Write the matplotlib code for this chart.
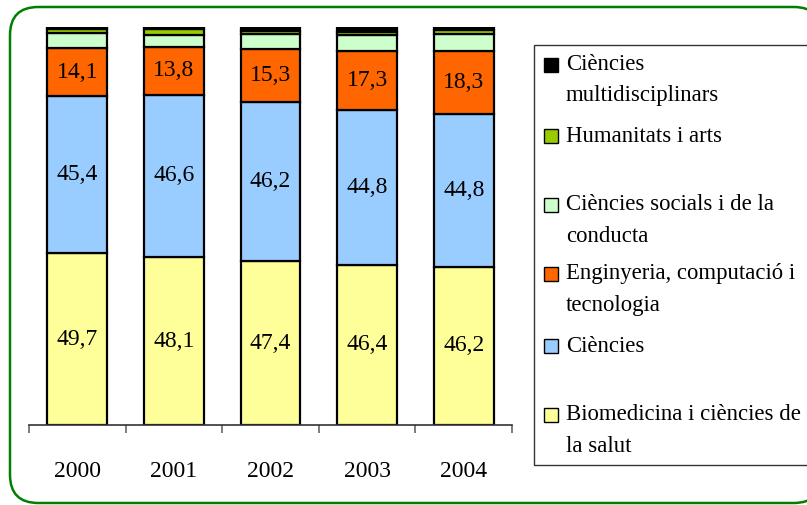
import matplotlib
matplotlib.use("Agg")
import matplotlib.pyplot as plt
from matplotlib.patches import FancyBboxPatch, Rectangle
import numpy as np

plt.rcParams['font.family'] = ['Liberation Serif', 'DejaVu Serif']

years = ['2000', '2001', '2002', '2003', '2004']

# values as printed (% of papers, categories overlap so totals > 100)
biomedicina = [49.7, 48.1, 47.4, 46.4, 46.2]
ciencies = [45.4, 46.6, 46.2, 44.8, 44.8]
enginyeria = [14.1, 13.8, 15.3, 17.3, 18.3]
# small segments
socials = [4.3, 3.3, 4.3, 4.6, 5.0]
humanitats = [1.0, 1.7, 0.9, 0.9, 1.0]
multidisc = [0.8, 0.7, 1.2, 1.5, 1.1]

series = [biomedicina, ciencies, enginyeria, socials, humanitats, multidisc]
names = ['Biomedicina i ciències de\nla salut', 'Ciències',
         'Enginyeria, computació i\ntecnologia', 'Ciències socials i de la\nconducta',
         'Humanitats i arts', 'Ciències\nmultidisciplinars']
colors = ['#FFFF99', '#99CCFF', '#FF6600', '#CCFFCC', '#99CC00', '#000000']
labelled = 3  # first three series carry value labels

W, H = 807, 505
fig = plt.figure(figsize=(W / 100, H / 100), dpi=100)

def fx(px):
    return px / W

def fy(py):
    return 1 - py / H

# rounded green frame (right edge runs past the image)
frame = FancyBboxPatch((fx(10), fy(503)), fx(822) - fx(10), fy(7) - fy(503),
                       boxstyle="round,pad=0,rounding_size=0.035",
                       transform=fig.transFigure, facecolor='white',
                       edgecolor='#008000', linewidth=1.8, zorder=-5,
                       mutation_aspect=W / H)
fig.patches.append(frame)

ax = fig.add_axes([fx(29), fy(425), fx(512) - fx(29), fy(26.7) - fy(425)])
ax.set_facecolor('none')
ax.set_zorder(2)

arr = np.array(series)
totals = arr.sum(axis=0)
pct = arr / totals * 100

x = np.arange(len(years))
bottom = np.zeros(len(years))
for i, (vals, col) in enumerate(zip(pct, colors)):
    bars = ax.bar(x, vals, 0.62, bottom=bottom, color=col,
                  edgecolor='black', linewidth=1.6)
    if i < labelled:
        ax.bar_label(bars, labels=[f"{v:.1f}".replace('.', ',') for v in series[i]],
                     label_type='center', fontsize=17)
    bottom += vals

ax.set_xlim(-0.5, len(years) - 0.5)
ax.set_ylim(0, 100)
for s in ['left', 'right', 'top']:
    ax.spines[s].set_visible(False)
ax.spines['bottom'].set_color('#333333')
ax.spines['bottom'].set_linewidth(1.2)
ax.set_yticks([])
ax.set_xticks(x)
ax.set_xticklabels(years, fontsize=17)
ax.tick_params(axis='x', which='major', length=0, pad=26)
ax.set_xticks(np.arange(len(years) + 1) - 0.5, minor=True)
ax.tick_params(axis='x', which='minor', length=6, width=1.2, color='#666666')

# legend box
fig.patches.append(Rectangle((fx(534), fy(465)), fx(840) - fx(534), fy(45) - fy(465),
                             transform=fig.transFigure, facecolor='white',
                             edgecolor='#333333', linewidth=1.0, zorder=1))
first_lines = [415, 346, 274, 205, 136, 65]
for name, col, y0 in zip(names, colors, first_lines):
    fig.patches.append(Rectangle((fx(544), fy(y0 + 7)), fx(14), 14 / H,
                                 transform=fig.transFigure, facecolor=col,
                                 edgecolor='black', linewidth=1.0, zorder=2))
    for k, line in enumerate(name.split('\n')):
        fig.text(fx(566), fy(y0 + 31 * k), line, fontsize=16.4, va='center',
                 ha='left', zorder=3)

fig.savefig('out.png', dpi=100)
